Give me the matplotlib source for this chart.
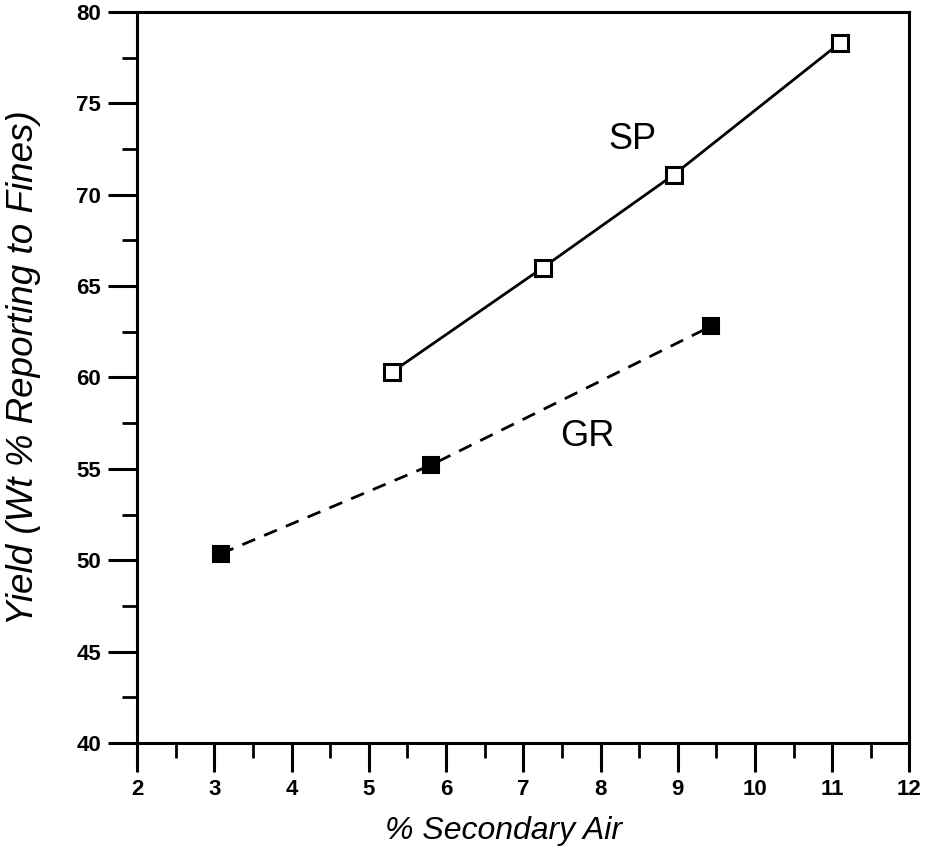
import matplotlib
matplotlib.use("Agg")
import matplotlib.pyplot as plt
from matplotlib.ticker import MultipleLocator

sp_x = [5.3, 7.25, 8.95, 11.1]
sp_y = [60.3, 66.0, 71.1, 78.3]
gr_x = [3.08, 5.8, 9.43]
gr_y = [50.35, 55.2, 62.8]
xlabel = "% Secondary Air"
ylabel = "Yield (Wt % Reporting to Fines)"

plt.rcParams['font.family'] = ['Liberation Sans', 'DejaVu Sans']

fig = plt.figure(figsize=(9.27, 8.55), dpi=100)
ax = fig.add_axes([0.148, 0.131, 0.833, 0.855])

ax.plot(sp_x, sp_y, '-', color='black', lw=2.0, marker='s', ms=11,
        mfc='white', mec='black', mew=2.2)
ax.plot(gr_x, gr_y, '--', color='black', lw=2.0, dashes=(5, 3.5), marker='s', ms=11,
        mfc='black', mec='black', mew=1.5)

ax.text(8.42, 73.0, "SP", fontsize=26, ha='center', va='center')
ax.text(7.83, 56.75, "GR", fontsize=26, ha='center', va='center')

ax.set_xlim(2, 12)
ax.set_ylim(40, 80)
ax.xaxis.set_major_locator(MultipleLocator(1))
ax.xaxis.set_minor_locator(MultipleLocator(0.5))
ax.yaxis.set_major_locator(MultipleLocator(5))
ax.yaxis.set_minor_locator(MultipleLocator(2.5))
ax.tick_params(which='major', direction='out', length=21, width=2.2, labelsize=16, pad=5)
ax.tick_params(which='minor', direction='out', length=11, width=2.0)
for lab in ax.get_xticklabels() + ax.get_yticklabels():
    lab.set_fontweight('bold')
for s in ax.spines.values():
    s.set_linewidth(2.2)

ax.set_xlabel(xlabel, fontsize=23, style='italic')
ax.set_ylabel(ylabel, fontsize=26.5, style='italic')
ax.xaxis.set_label_coords(0.475, -0.100)
ax.yaxis.set_label_coords(-0.125, 0.513)

fig.savefig("out.png", dpi=100)
